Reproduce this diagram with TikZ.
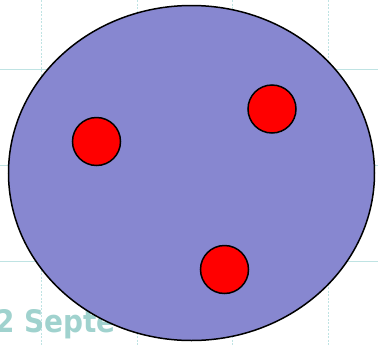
\documentclass[tikz,border=0pt]{standalone}
\usepackage{fontspec}
\newfontfamily\datefont{DejaVu Sans Condensed}
\usetikzlibrary{shapes.geometric}
\definecolor{CellBlue}{HTML}{8787D0}
\definecolor{GridTeal}{HTML}{BFE3E3}
\definecolor{DateTeal}{HTML}{A0D2CE}

\begin{document}
\begin{tikzpicture}[x=1pt, y=-1pt,
    cell/.style={ellipse, draw=black, line width=1.5pt, fill=CellBlue,
                 minimum width=366pt, minimum height=335pt, inner sep=0pt},
    dot/.style={circle, draw=black, line width=1.5pt, fill=red,
                minimum size=48pt, inner sep=0pt},
    gridline/.style={GridTeal, line width=0.7pt}
  ]
    \useasboundingbox (0,0) rectangle (378,346);
    % background grid
    \foreach \x in {41,137,232,328}
      \draw[gridline, dash pattern=on 2pt off 1.5pt] (\x,0) -- (\x,346);
    \foreach \y in {69,165,261}
      \draw[gridline] (0,\y) -- (378,\y);
    \node[anchor=base west, inner sep=0pt, text=DateTeal,
          font=\datefont\fontsize{31}{34}\selectfont\bfseries] (date) at (-5,332) {2 Septe};
    % cell and its dots
    \node[cell] (cell) at (191.5,173) {};
    \node[dot] (dotA) at (96.5,141.5) {};
    \node[dot] (dotB) at (272,109) {};
    \node[dot] (dotC) at (224.5,269.5) {};
  \end{tikzpicture}
\end{document}
